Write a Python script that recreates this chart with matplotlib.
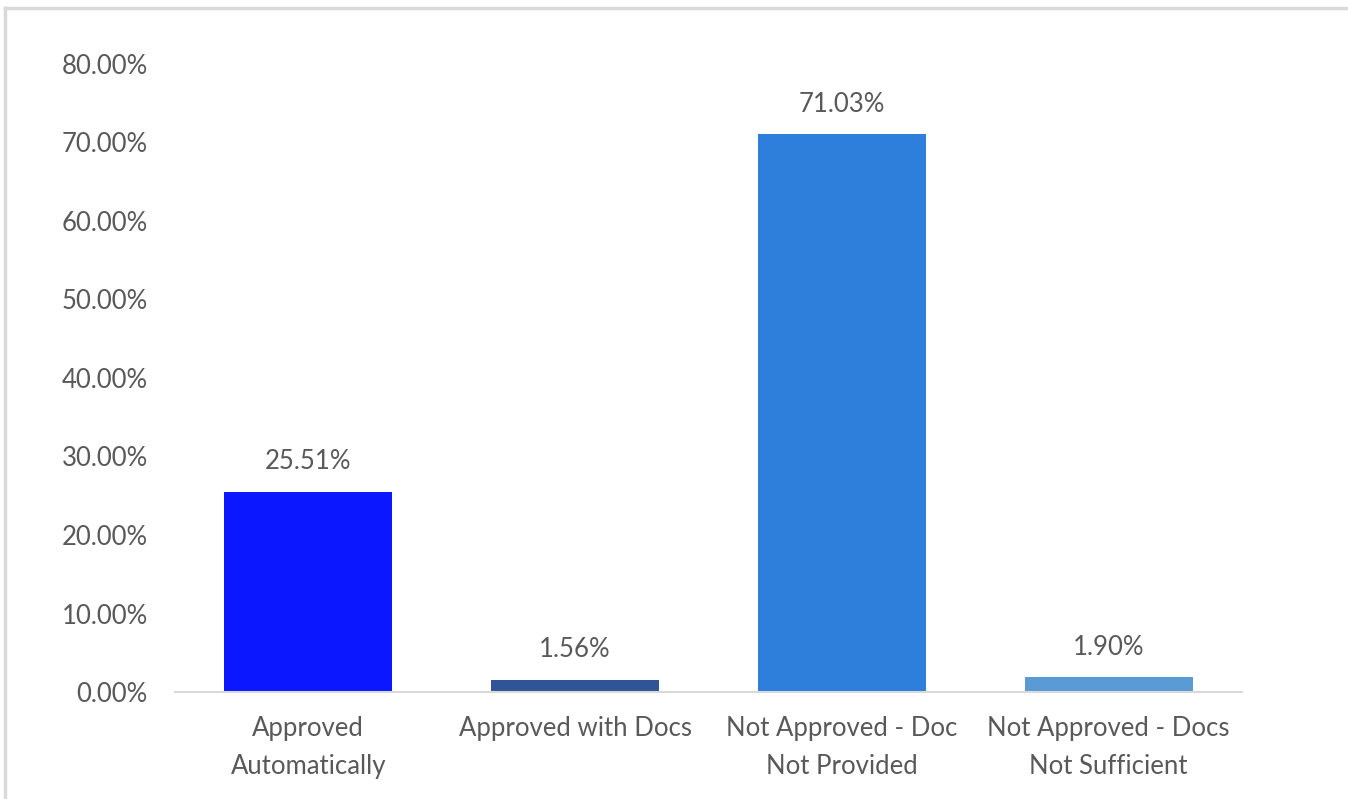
import numpy as np
import matplotlib.pyplot as plt
from matplotlib.lines import Line2D

categories = ['Approved\nAutomatically', 'Approved with Docs',
              'Not Approved - Doc\nNot Provided', 'Not Approved - Docs\nNot Sufficient']
values = [25.51, 1.56, 71.03, 1.90]
colors = ['#0A17FF', '#2F5597', '#2E7FDB', '#5B9BD5']
yticks = [0, 10, 20, 30, 40, 50, 60, 70, 80]

plt.rcParams['font.family'] = ['Lato', 'DejaVu Sans']
txt = '#595959'
fs = 18.5

fig = plt.figure(figsize=(13.48, 7.99), dpi=100)
ax = fig.add_axes([0.1298, 0.1339, 0.7916, 0.7861])

x = np.arange(len(values))
bars = ax.bar(x, values, width=0.63, color=colors)
for b, v in zip(bars, values):
    ax.text(b.get_x() + b.get_width() / 2, v + 2.2, '%.2f%%' % v,
            ha='center', va='bottom', fontsize=fs, color=txt)

ax.set_xlim(-0.5, 3.5)
ax.set_ylim(0, 80)
ax.set_yticks(yticks)
ax.set_yticklabels(['%.2f%%' % t for t in yticks])
ax.set_xticks(x)
ax.set_xticklabels(categories, linespacing=1.65)
ax.tick_params(axis='both', length=0, labelsize=fs, labelcolor=txt)
ax.tick_params(axis='y', pad=19.5)
ax.tick_params(axis='x', pad=17)
for s in ['top', 'right', 'left']:
    ax.spines[s].set_visible(False)
ax.spines['bottom'].set_color('#D9D9D9')
ax.spines['bottom'].set_linewidth(1.5)

# outer chart border
fig.add_artist(Line2D([5 / 1348, 1], [1 - 8 / 799, 1 - 8 / 799], color='#D9D9D9', lw=2.5))
fig.add_artist(Line2D([5 / 1348, 5 / 1348], [0, 1 - 8 / 799], color='#D9D9D9', lw=2.5))

fig.savefig('out.png', dpi=100)
